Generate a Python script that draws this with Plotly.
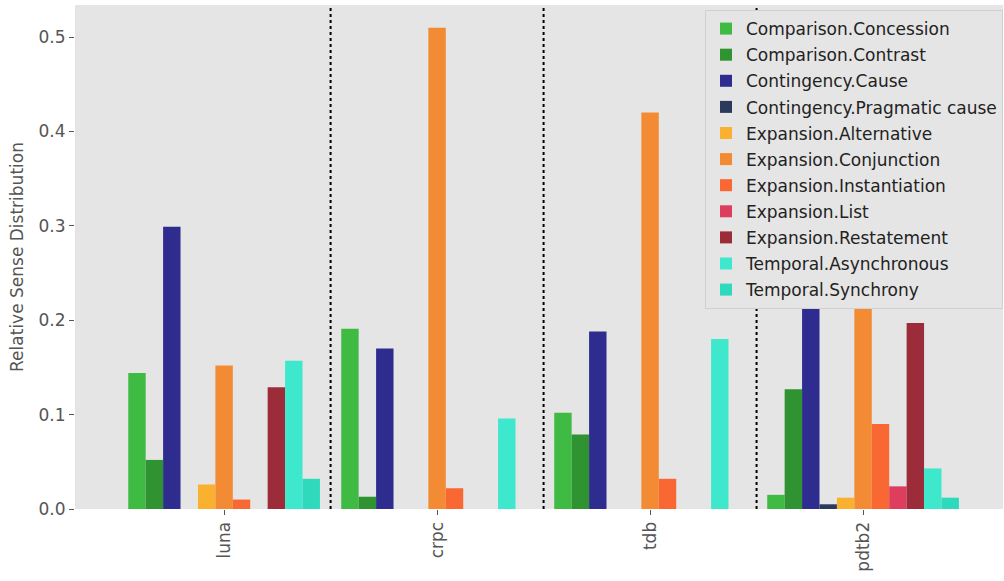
import plotly.graph_objects as go

# Corpora on the x axis
corpora = ["luna", "crpc", "tdb", "pdtb2"]

# Relative frequency of each discourse sense per corpus
comparison_concession = [0.144, 0.191, 0.102, 0.015]
comparison_contrast = [0.052, 0.013, 0.079, 0.127]
contingency_cause = [0.299, 0.170, 0.188, 0.26]
contingency_pragmatic_cause = [0.0, 0.0, 0.0, 0.005]
expansion_alternative = [0.026, 0.0, 0.0, 0.012]
expansion_conjunction = [0.152, 0.510, 0.420, 0.25]
expansion_instantiation = [0.010, 0.022, 0.032, 0.090]
expansion_list = [0.0, 0.0, 0.0, 0.024]
expansion_restatement = [0.129, 0.0, 0.0, 0.197]
temporal_asynchronous = [0.157, 0.096, 0.180, 0.043]
temporal_synchrony = [0.032, 0.0, 0.0, 0.012]

senses = [
    ("Comparison.Concession", comparison_concession, "#3fbb44"),
    ("Comparison.Contrast", comparison_contrast, "#2e9330"),
    ("Contingency.Cause", contingency_cause, "#2e2d8f"),
    ("Contingency.Pragmatic cause", contingency_pragmatic_cause, "#2b3a5c"),
    ("Expansion.Alternative", expansion_alternative, "#fbb130"),
    ("Expansion.Conjunction", expansion_conjunction, "#f38b35"),
    ("Expansion.Instantiation", expansion_instantiation, "#f96732"),
    ("Expansion.List", expansion_list, "#de3e5e"),
    ("Expansion.Restatement", expansion_restatement, "#9c2c3a"),
    ("Temporal.Asynchronous", temporal_asynchronous, "#3ee8cd"),
    ("Temporal.Synchrony", temporal_synchrony, "#2fd9bb"),
]

positions = list(range(len(corpora)))

fig = go.Figure()
for name, values, color in senses:
    fig.add_trace(go.Bar(
        x=positions, y=values, name=name, legendgroup=name,
        marker=dict(color=color, line=dict(width=0)),
    ))

# Dotted separators between corpora
for i in range(len(corpora) - 1):
    fig.add_shape(type="line", xref="x", yref="paper",
                  x0=i + 0.5, x1=i + 0.5, y0=0, y1=1,
                  line=dict(color="black", width=2, dash="dot"))

font_family = "DejaVu Sans"
grey = "#555555"

fig.update_layout(
    width=1004, height=581,
    margin=dict(l=75, r=1, t=5, b=72),
    paper_bgcolor="white",
    plot_bgcolor="#e5e5e5",
    barmode="group",
    bargap=0.1,
    bargroupgap=0,
    font=dict(family=font_family, color=grey),
    showlegend=True,
    legend=dict(
        x=1, xanchor="right", y=0.99, yanchor="top",
        bgcolor="#e5e5e5",
        bordercolor="#d0d0d0", borderwidth=1,
        font=dict(family=font_family, size=17, color="#222222"),
        tracegroupgap=1,
        traceorder="grouped",
    ),
    xaxis=dict(
        range=[-0.70, 3.657],
        tickmode="array", tickvals=positions, ticktext=corpora,
        tickangle=-90,
        tickfont=dict(size=17, color=grey),
        ticks="outside", ticklen=5, tickcolor=grey,
        showgrid=False, zeroline=False, showline=False,
    ),
    yaxis=dict(
        range=[0, 0.534],
        tickmode="array", tickvals=[0, 0.1, 0.2, 0.3, 0.4, 0.5],
        ticktext=["0.0", "0.1", "0.2", "0.3", "0.4", "0.5"],
        tickfont=dict(size=17, color=grey),
        ticks="outside", ticklen=5, tickcolor=grey,
        showgrid=False, zeroline=False, showline=False,
        title=dict(text="Relative Sense Distribution",
                   font=dict(size=17, color=grey), standoff=10),
    ),
)

fig.write_html("out.html")
